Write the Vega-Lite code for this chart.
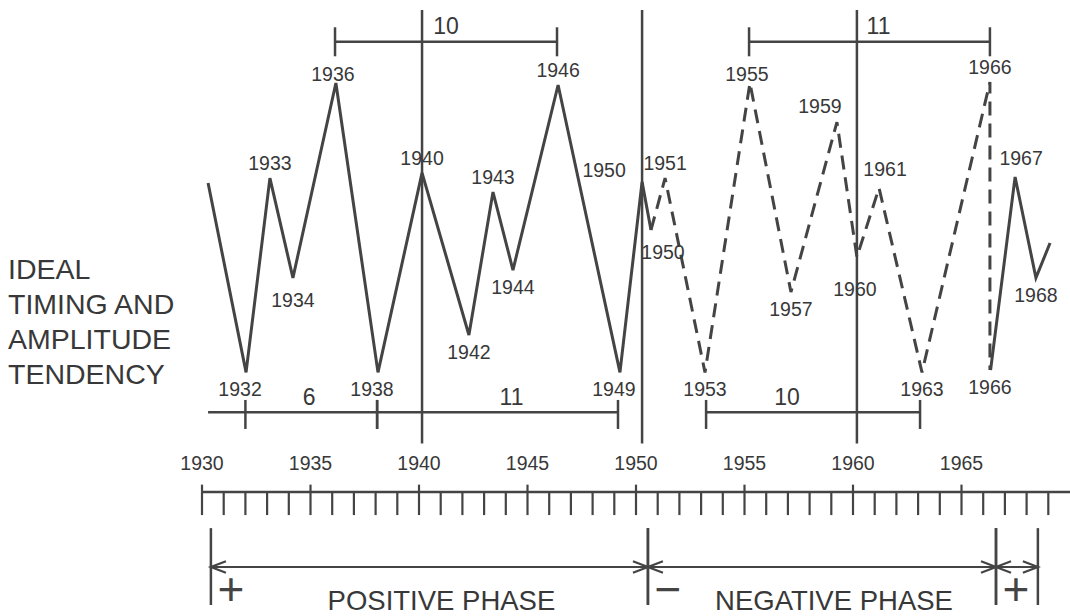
{
  "$schema": "https://vega.github.io/schema/vega-lite/v6.json",
  "width": 1070,
  "height": 616,
  "autosize": "none",
  "padding": 0,
  "background": "white",
  "config": {
    "view": {"stroke": null},
    "axis": {"disable": true},
    "text": {"font": "Liberation Sans", "color": "#383838", "fontSize": 19.5}
  },
  "resolve": {"scale": {"shape": "independent"}},
  "datasets": {
    "cycle": [
      {"i": 1, "part": "A", "t": 1930.28, "amp": 65.3, "extreme": "start", "label": null},
      {"i": 2, "part": "A", "t": 1932.03, "amp": 0, "extreme": "trough", "label": "1932"},
      {"i": 3, "part": "A", "t": 1933.13, "amp": 67.0, "extreme": "peak", "label": "1933"},
      {"i": 4, "part": "A", "t": 1934.19, "amp": 32.6, "extreme": "trough", "label": "1934"},
      {"i": 5, "part": "A", "t": 1936.17, "amp": 99.8, "extreme": "peak", "label": "1936"},
      {"i": 6, "part": "A", "t": 1938.11, "amp": 0, "extreme": "trough", "label": "1938"},
      {"i": 7, "part": "A", "t": 1940.14, "amp": 68.8, "extreme": "peak", "label": "1940"},
      {"i": 8, "part": "A", "t": 1942.3, "amp": 12.9, "extreme": "trough", "label": "1942"},
      {"i": 9, "part": "A", "t": 1943.41, "amp": 62.2, "extreme": "peak", "label": "1943"},
      {"i": 10, "part": "A", "t": 1944.33, "amp": 35.3, "extreme": "trough", "label": "1944"},
      {"i": 11, "part": "A", "t": 1946.41, "amp": 99.1, "extreme": "peak", "label": "1946"},
      {"i": 12, "part": "A", "t": 1949.26, "amp": 0, "extreme": "trough", "label": "1949"},
      {"i": 13, "part": "A", "t": 1950.28, "amp": 65.7, "extreme": "peak", "label": "1950"},
      {"i": 14, "part": "A", "t": 1950.69, "amp": 49.1, "extreme": "trough", "label": "1950"},
      {"i": 15, "part": "B", "t": 1950.69, "amp": 49.1, "extreme": "trough", "label": null},
      {"i": 16, "part": "B", "t": 1951.34, "amp": 67.0, "extreme": "peak", "label": "1951"},
      {"i": 17, "part": "B", "t": 1953.18, "amp": 0, "extreme": "trough", "label": "1953"},
      {"i": 18, "part": "B", "t": 1955.25, "amp": 99.8, "extreme": "peak", "label": "1955"},
      {"i": 19, "part": "B", "t": 1957.14, "amp": 27.7, "extreme": "trough", "label": "1957"},
      {"i": 20, "part": "B", "t": 1959.26, "amp": 86.3, "extreme": "peak", "label": "1959"},
      {"i": 21, "part": "B", "t": 1960.18, "amp": 39.8, "extreme": "trough", "label": "1960"},
      {"i": 22, "part": "B", "t": 1961.2, "amp": 63.6, "extreme": "peak", "label": "1961"},
      {"i": 23, "part": "B", "t": 1963.18, "amp": 0, "extreme": "trough", "label": "1963"},
      {"i": 24, "part": "B", "t": 1966.31, "amp": 100.1, "extreme": "peak", "label": "1966"},
      {"i": 25, "part": "B", "t": 1966.31, "amp": 0.8, "extreme": "trough", "label": "1966"},
      {"i": 26, "part": "C", "t": 1966.34, "amp": 0.8, "extreme": "trough", "label": null},
      {"i": 27, "part": "C", "t": 1967.47, "amp": 67.4, "extreme": "peak", "label": "1967"},
      {"i": 28, "part": "C", "t": 1968.43, "amp": 32.6, "extreme": "trough", "label": "1968"},
      {"i": 29, "part": "C", "t": 1969.08, "amp": 44.6, "extreme": "end", "label": null}
    ],
    "markers": [{"year": 1940.14}, {"year": 1950.28}, {"year": 1960.18}],
    "brackets": [
      {"id": "t10", "level": "top", "start": 1936.13, "end": 1946.36, "span": 10},
      {"id": "t11", "level": "top", "start": 1955.21, "end": 1966.31, "span": 11},
      {"id": "lead", "level": "bottom", "start": 1930.28, "end": 1932.0, "span": null},
      {"id": "b6", "level": "bottom", "start": 1932.0, "end": 1938.07, "span": 6},
      {"id": "b11", "level": "bottom", "start": 1938.07, "end": 1949.17, "span": 11},
      {"id": "b10", "level": "bottom", "start": 1953.23, "end": 1963.09, "span": 10}
    ],
    "ticks": [
      {"year": 1930}, {"year": 1931}, {"year": 1932}, {"year": 1933}, {"year": 1934},
      {"year": 1935}, {"year": 1936}, {"year": 1937}, {"year": 1938}, {"year": 1939},
      {"year": 1940}, {"year": 1941}, {"year": 1942}, {"year": 1943}, {"year": 1944},
      {"year": 1945}, {"year": 1946}, {"year": 1947}, {"year": 1948}, {"year": 1949},
      {"year": 1950}, {"year": 1951}, {"year": 1952}, {"year": 1953}, {"year": 1954},
      {"year": 1955}, {"year": 1956}, {"year": 1957}, {"year": 1958}, {"year": 1959},
      {"year": 1960}, {"year": 1961}, {"year": 1962}, {"year": 1963}, {"year": 1964},
      {"year": 1965}, {"year": 1966}, {"year": 1967}, {"year": 1968}, {"year": 1969}
    ],
    "phases": [
      {"phase": "POSITIVE PHASE", "sign": "+", "start": 1930.41, "end": 1950.55},
      {"phase": "NEGATIVE PHASE", "sign": "−", "start": 1950.55, "end": 1966.59},
      {"phase": "POSITIVE PHASE", "sign": "+", "start": 1966.59, "end": 1968.52}
    ]
  },
  "layer": [
    {
      "data": {"name": "markers"},
      "mark": {"type": "rule", "color": "#444", "strokeWidth": 2.5},
      "encoding": {
        "x": {"field": "year", "type": "quantitative", "scale": {"domain": [1920.691, 1970], "nice": false, "zero": false}},
        "y": {"datum": 125, "type": "quantitative", "scale": {"domain": [-84.0, 128.41], "nice": false, "zero": false}},
        "y2": {"datum": -24.5}
      }
    },
    {
      "data": {"name": "cycle"},
      "transform": [{"filter": "datum.part != 'B'"}],
      "mark": {"type": "line", "color": "#444", "strokeWidth": 3, "strokeJoin": "miter"},
      "encoding": {
        "x": {"field": "t", "type": "quantitative", "scale": {"domain": [1920.691, 1970], "nice": false, "zero": false}},
        "y": {"field": "amp", "type": "quantitative", "scale": {"domain": [-84.0, 128.41], "nice": false, "zero": false}},
        "detail": {"field": "part"},
        "order": {"field": "i", "type": "quantitative"}
      }
    },
    {
      "data": {"name": "cycle"},
      "transform": [{"filter": "datum.part == 'B'"}],
      "mark": {"type": "line", "color": "#444", "strokeWidth": 3, "strokeDash": [14, 8]},
      "encoding": {
        "x": {"field": "t", "type": "quantitative", "scale": {"domain": [1920.691, 1970], "nice": false, "zero": false}},
        "y": {"field": "amp", "type": "quantitative", "scale": {"domain": [-84.0, 128.41], "nice": false, "zero": false}},
        "order": {"field": "i", "type": "quantitative"}
      }
    },
    {
      "data": {"name": "cycle"},
      "transform": [{"filter": "datum.extreme == 'peak' && indexof(['1933','1940','1943','1946','1951','1966'], datum.label) >= 0"}],
      "mark": {"type": "text", "align": "center", "baseline": "alphabetic", "dy": -8},
      "encoding": {
        "x": {"field": "t", "type": "quantitative"},
        "y": {"field": "amp", "type": "quantitative"},
        "text": {"field": "label"}
      }
    },
    {
      "data": {"name": "cycle"},
      "transform": [{"filter": "datum.extreme == 'peak' && indexof(['1936','1955'], datum.label) >= 0"}],
      "mark": {"type": "text", "align": "center", "baseline": "alphabetic", "dx": -3, "dy": -2},
      "encoding": {
        "x": {"field": "t", "type": "quantitative"},
        "y": {"field": "amp", "type": "quantitative"},
        "text": {"field": "label"}
      }
    },
    {
      "data": {"name": "cycle"},
      "transform": [{"filter": "datum.extreme == 'peak' && datum.label == '1950'"}],
      "mark": {"type": "text", "align": "center", "baseline": "alphabetic", "dx": -38, "dy": -5},
      "encoding": {
        "x": {"field": "t", "type": "quantitative"},
        "y": {"field": "amp", "type": "quantitative"},
        "text": {"field": "label"}
      }
    },
    {
      "data": {"name": "cycle"},
      "transform": [{"filter": "datum.extreme == 'peak' && datum.label == '1959'"}],
      "mark": {"type": "text", "align": "center", "baseline": "alphabetic", "dx": -17, "dy": -9},
      "encoding": {
        "x": {"field": "t", "type": "quantitative"},
        "y": {"field": "amp", "type": "quantitative"},
        "text": {"field": "label"}
      }
    },
    {
      "data": {"name": "cycle"},
      "transform": [{"filter": "datum.extreme == 'peak' && indexof(['1961','1967'], datum.label) >= 0"}],
      "mark": {"type": "text", "align": "center", "baseline": "alphabetic", "dx": 6, "dy": -12},
      "encoding": {
        "x": {"field": "t", "type": "quantitative"},
        "y": {"field": "amp", "type": "quantitative"},
        "text": {"field": "label"}
      }
    },
    {
      "data": {"name": "cycle"},
      "transform": [{"filter": "datum.extreme == 'trough' && indexof(['1942','1944','1953','1957','1963','1966','1968'], datum.label) >= 0"}],
      "mark": {"type": "text", "align": "center", "baseline": "top", "dy": 9},
      "encoding": {
        "x": {"field": "t", "type": "quantitative"},
        "y": {"field": "amp", "type": "quantitative"},
        "text": {"field": "label"}
      }
    },
    {
      "data": {"name": "cycle"},
      "transform": [{"filter": "datum.extreme == 'trough' && indexof(['1932','1938','1949'], datum.label) >= 0"}],
      "mark": {"type": "text", "align": "center", "baseline": "top", "dx": -6, "dy": 9},
      "encoding": {
        "x": {"field": "t", "type": "quantitative"},
        "y": {"field": "amp", "type": "quantitative"},
        "text": {"field": "label"}
      }
    },
    {
      "data": {"name": "cycle"},
      "transform": [{"filter": "datum.extreme == 'trough' && datum.label == '1934'"}],
      "mark": {"type": "text", "align": "center", "baseline": "top", "dy": 14},
      "encoding": {
        "x": {"field": "t", "type": "quantitative"},
        "y": {"field": "amp", "type": "quantitative"},
        "text": {"field": "label"}
      }
    },
    {
      "data": {"name": "cycle"},
      "transform": [{"filter": "datum.extreme == 'trough' && datum.label == '1950'"}],
      "mark": {"type": "text", "align": "center", "baseline": "top", "dx": 12, "dy": 14},
      "encoding": {
        "x": {"field": "t", "type": "quantitative"},
        "y": {"field": "amp", "type": "quantitative"},
        "text": {"field": "label"}
      }
    },
    {
      "data": {"name": "cycle"},
      "transform": [{"filter": "datum.extreme == 'trough' && datum.label == '1960'"}],
      "mark": {"type": "text", "align": "center", "baseline": "top", "dx": -2, "dy": 24},
      "encoding": {
        "x": {"field": "t", "type": "quantitative"},
        "y": {"field": "amp", "type": "quantitative"},
        "text": {"field": "label"}
      }
    },
    {
      "data": {"name": "brackets"},
      "transform": [{"filter": "datum.level == 'top'"}],
      "mark": {"type": "rule", "color": "#444", "strokeWidth": 2.5},
      "encoding": {
        "x": {"field": "start", "type": "quantitative"},
        "x2": {"field": "end"},
        "y": {"datum": 114, "type": "quantitative"}
      }
    },
    {
      "data": {"name": "brackets"},
      "transform": [{"filter": "datum.level == 'bottom'"}],
      "mark": {"type": "rule", "color": "#444", "strokeWidth": 2.5},
      "encoding": {
        "x": {"field": "start", "type": "quantitative"},
        "x2": {"field": "end"},
        "y": {"datum": -13.7, "type": "quantitative"}
      }
    },
    {
      "data": {"name": "brackets"},
      "transform": [
        {"filter": "datum.level == 'top'"},
        {"fold": ["start", "end"], "as": ["side", "pos"]}
      ],
      "mark": {"type": "rule", "color": "#444", "strokeWidth": 2.5},
      "encoding": {
        "x": {"field": "pos", "type": "quantitative"},
        "y": {"datum": 119, "type": "quantitative"},
        "y2": {"datum": 109}
      }
    },
    {
      "data": {"name": "brackets"},
      "transform": [
        {"filter": "datum.level == 'bottom' && datum.span != null"},
        {"fold": ["start", "end"], "as": ["side", "pos"]}
      ],
      "mark": {"type": "rule", "color": "#444", "strokeWidth": 2.5},
      "encoding": {
        "x": {"field": "pos", "type": "quantitative"},
        "y": {"datum": -9.5, "type": "quantitative"},
        "y2": {"datum": -19.5}
      }
    },
    {
      "data": {"name": "brackets"},
      "transform": [
        {"filter": "datum.id == 't10'"},
        {"calculate": "(datum.start + datum.end) / 2", "as": "mid"}
      ],
      "mark": {"type": "text", "align": "center", "baseline": "alphabetic", "fontSize": 23},
      "encoding": {
        "x": {"field": "mid", "type": "quantitative"},
        "y": {"datum": 116.7, "type": "quantitative"},
        "text": {"field": "span"}
      }
    },
    {
      "data": {"name": "brackets"},
      "transform": [
        {"filter": "datum.id == 't11'"},
        {"calculate": "(datum.start + datum.end) / 2", "as": "mid"}
      ],
      "mark": {"type": "text", "align": "center", "baseline": "alphabetic", "fontSize": 23, "dx": 9},
      "encoding": {
        "x": {"field": "mid", "type": "quantitative"},
        "y": {"datum": 116.7, "type": "quantitative"},
        "text": {"field": "span"}
      }
    },
    {
      "data": {"name": "brackets"},
      "transform": [
        {"filter": "datum.id == 'b6'"},
        {"calculate": "(datum.start + datum.end) / 2", "as": "mid"}
      ],
      "mark": {"type": "text", "align": "center", "baseline": "alphabetic", "fontSize": 23, "dx": -2},
      "encoding": {
        "x": {"field": "mid", "type": "quantitative"},
        "y": {"datum": -11.2, "type": "quantitative"},
        "text": {"field": "span"}
      }
    },
    {
      "data": {"name": "brackets"},
      "transform": [
        {"filter": "datum.id == 'b11'"},
        {"calculate": "(datum.start + datum.end) / 2", "as": "mid"}
      ],
      "mark": {"type": "text", "align": "center", "baseline": "alphabetic", "fontSize": 23, "dx": 14},
      "encoding": {
        "x": {"field": "mid", "type": "quantitative"},
        "y": {"datum": -11.2, "type": "quantitative"},
        "text": {"field": "span"}
      }
    },
    {
      "data": {"name": "brackets"},
      "transform": [
        {"filter": "datum.id == 'b10'"},
        {"calculate": "(datum.start + datum.end) / 2", "as": "mid"}
      ],
      "mark": {"type": "text", "align": "center", "baseline": "alphabetic", "fontSize": 23, "dx": -26},
      "encoding": {
        "x": {"field": "mid", "type": "quantitative"},
        "y": {"datum": -11.2, "type": "quantitative"},
        "text": {"field": "span"}
      }
    },
    {
      "data": {"values": [{}]},
      "mark": {"type": "rule", "color": "#444", "strokeWidth": 2.5},
      "encoding": {
        "x": {"datum": 1930, "type": "quantitative"},
        "x2": {"datum": 1970},
        "y": {"datum": -41.2, "type": "quantitative"}
      }
    },
    {
      "data": {"name": "ticks"},
      "mark": {"type": "rule", "color": "#444", "strokeWidth": 2.2},
      "encoding": {
        "x": {"field": "year", "type": "quantitative"},
        "y": {"datum": -41.2, "type": "quantitative"},
        "y2": {"datum": -49.2}
      }
    },
    {
      "data": {"name": "ticks"},
      "transform": [{"filter": "datum.year % 5 == 0"}],
      "mark": {"type": "rule", "color": "#444", "strokeWidth": 2.2},
      "encoding": {
        "x": {"field": "year", "type": "quantitative"},
        "y": {"datum": -38.7, "type": "quantitative"},
        "y2": {"datum": -41.2}
      }
    },
    {
      "data": {"name": "ticks"},
      "transform": [{"filter": "datum.year % 5 == 0"}],
      "mark": {"type": "text", "align": "center", "baseline": "alphabetic"},
      "encoding": {
        "x": {"field": "year", "type": "quantitative"},
        "y": {"datum": -33.7, "type": "quantitative"},
        "text": {"field": "year", "type": "nominal"}
      }
    },
    {
      "data": {"name": "phases"},
      "mark": {"type": "rule", "color": "#444", "strokeWidth": 2.2},
      "encoding": {
        "x": {"field": "start", "type": "quantitative"},
        "x2": {"field": "end"},
        "y": {"datum": -67.1, "type": "quantitative"}
      }
    },
    {
      "data": {"name": "phases"},
      "transform": [{"fold": ["start", "end"], "as": ["side", "pos"]}],
      "mark": {"type": "rule", "color": "#444", "strokeWidth": 2.5},
      "encoding": {
        "x": {"field": "pos", "type": "quantitative"},
        "y": {"datum": -53.7, "type": "quantitative"},
        "y2": {"datum": -80.2}
      }
    },
    {
      "data": {"name": "phases"},
      "transform": [{"fold": ["start", "end"], "as": ["side", "pos"]}],
      "mark": {"type": "point", "filled": false, "opacity": 1, "color": "#444", "strokeWidth": 2.2, "size": 900},
      "encoding": {
        "x": {"field": "pos", "type": "quantitative"},
        "y": {"datum": -67.1, "type": "quantitative"},
        "shape": {
          "field": "side",
          "type": "nominal",
          "scale": {"domain": ["start", "end"], "range": ["M1,-0.38L0,0L1,0.38", "M-1,-0.38L0,0L-1,0.38"]},
          "legend": null
        }
      }
    },
    {
      "data": {"name": "phases"},
      "mark": {"type": "text", "align": "center", "baseline": "middle", "fontSize": 46, "dx": 20, "dy": 3, "color": "#444"},
      "encoding": {
        "x": {"field": "start", "type": "quantitative"},
        "y": {"datum": -74.2, "type": "quantitative"},
        "text": {"field": "sign"}
      }
    },
    {
      "data": {"name": "phases"},
      "transform": [
        {"filter": "datum.end - datum.start > 5"},
        {"calculate": "(datum.start + datum.end) / 2", "as": "mid"}
      ],
      "mark": {"type": "text", "align": "center", "baseline": "alphabetic", "fontSize": 27.5, "dx": 12},
      "encoding": {
        "x": {"field": "mid", "type": "quantitative"},
        "y": {"datum": -82.0, "type": "quantitative"},
        "text": {"field": "phase"}
      }
    },
    {
      "data": {"values": [{"title": "IDEAL TIMING AND AMPLITUDE TENDENCY"}]},
      "mark": {
        "type": "text",
        "align": "left",
        "baseline": "top",
        "fontSize": 28.5,
        "lineHeight": 35,
        "text": ["IDEAL", "TIMING AND", "AMPLITUDE", "TENDENCY"]
      },
      "encoding": {
        "x": {"datum": 1921.06, "type": "quantitative"},
        "y": {"datum": 40.1, "type": "quantitative"}
      }
    }
  ]
}
